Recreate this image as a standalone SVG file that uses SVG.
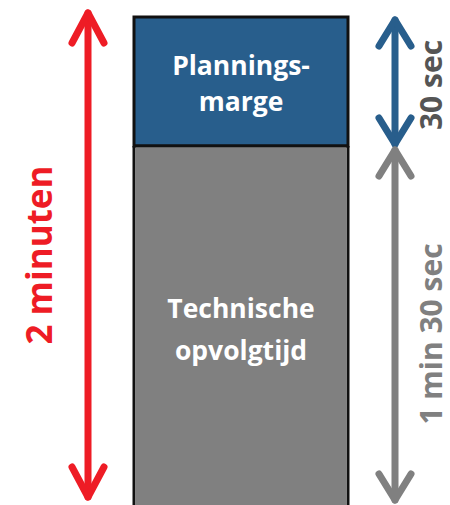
<svg xmlns="http://www.w3.org/2000/svg" width="450" height="505" viewBox="0 0 450 505">
<style>
.lbl{font-family:"Open Sans","Liberation Sans",sans-serif;font-weight:bold;}
.arr{fill:none;stroke-width:7;stroke-linecap:round;stroke-linejoin:round;}
</style>
<rect width="450" height="505" fill="#ffffff"/>
<g id="planningsmarge">
<rect x="134" y="17" width="214" height="129" fill="#285e8c" stroke="#111" stroke-width="3"/>
<text class="lbl" x="241" y="75" font-size="26.5" fill="#ffffff" text-anchor="middle">Plannings-</text>
<text class="lbl" x="241" y="111" font-size="26.5" fill="#ffffff" text-anchor="middle">marge</text>
</g>
<g id="opvolgtijd">
<path d="M134 146 V510 M348 146 V510 M134 146 H348" fill="#808080" stroke="#111" stroke-width="3"/>
<rect x="135.5" y="147.5" width="211" height="360" fill="#808080"/>
<text class="lbl" x="241" y="318" font-size="26.5" fill="#ffffff" text-anchor="middle">Technische</text>
<text class="lbl" x="241" y="360" font-size="26.5" fill="#ffffff" text-anchor="middle">opvolgtijd</text>
</g>
<g id="connectors">
<g stroke="#ee1c25" class="arr">
<path d="M88 13 V497"/>
<path d="M72 43 L88 13 L104 43"/>
<path d="M72 467 L88 497 L104 467"/>
</g>
<g stroke="#285e8c" class="arr">
<path d="M395 20 V144"/>
<path d="M379 46 L395 20 L411 46"/>
<path d="M379 118 L395 144 L411 118"/>
</g>
<g stroke="#808080" class="arr">
<path d="M395 150 V500"/>
<path d="M379 176 L395 150 L411 176"/>
<path d="M379 474 L395 500 L411 474"/>
</g>
</g>
<text class="lbl" transform="translate(442 85) rotate(-90)" font-size="30" fill="#555555" text-anchor="middle">30 sec</text>
<text class="lbl" transform="translate(442 334) rotate(-90)" font-size="30" fill="#808080" text-anchor="middle">1 min 30 sec</text>
<text class="lbl" transform="translate(52 255) rotate(-90)" font-size="35" fill="#ee1c25" text-anchor="middle">2 minuten</text>
</svg>
